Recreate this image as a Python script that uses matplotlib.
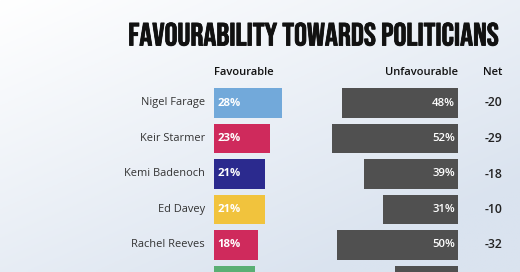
import numpy as np
import matplotlib
matplotlib.use('Agg')
import matplotlib.pyplot as plt
import matplotlib.patheffects as pe

names = ['Nigel Farage', 'Keir Starmer', 'Kemi Badenoch', 'Ed Davey',
         'Rachel Reeves', 'Zack Polanski']
favourable = [28, 23, 21, 21, 18, 17]
unfavourable = [48, 52, 39, 31, 50, 26]
net = [-20, -29, -18, -10, -32, -9]
fav_colors = ['#72a9da', '#cf2a5c', '#2b2a8e', '#f1c33d', '#cf2a5c', '#5aaf74']
n_visible = 5  # last row is cut off by the bottom edge

W, H = 520, 272


def fx(px):
    return px / W


def fy(py):
    return 1 - py / H


fig = plt.figure(figsize=(W / 100, H / 100), dpi=100)

# background gradient
bg = fig.add_axes([0, 0, 1, 1])
xx, yy = np.meshgrid(np.linspace(0, 1, 200), np.linspace(0, 1, 100))
t = np.clip(0.55 * xx + 0.65 * yy, 0, 1)[..., None]
c0 = np.array([1.0, 1.0, 1.0])
c1 = np.array([0xda, 0xe3, 0xef]) / 255
bg.imshow(c0 + (c1 - c0) * t, aspect='auto', extent=(0, 1, 0, 1))
bg.set_xlim(0, 1)
bg.set_ylim(0, 1)
bg.axis('off')

font = 'Open Sans'
row_top, row_h = 85.25, 35.5
n = len(names)
ax_top = fy(row_top)
ax_bot = fy(row_top + n * row_h)

# favourable bars
ax1 = fig.add_axes([fx(214), ax_bot, fx(110), ax_top - ax_bot])
ax1.barh(range(n), favourable, height=0.845, color=fav_colors)
ax1.set_xlim(0, 110 / 2.44)
ax1.set_ylim(n - 0.5, -0.5)
ax1.axis('off')

# unfavourable bars
ax2 = fig.add_axes([fx(318), ax_bot, fx(140), ax_top - ax_bot])
ax2.barh(range(n), unfavourable, height=0.845, color='#505050')
ax2.set_xlim(140 / 2.42, 0)
ax2.set_ylim(n - 0.5, -0.5)
ax2.axis('off')

for i in range(n_visible):
    ax1.annotate(names[i], (0, i), xytext=(-6.5, 0), textcoords='offset points',
                 ha='right', va='center', fontsize=7.9, color='#333333', family=font)
    ax1.annotate(f'{favourable[i]}%', (0, i), xytext=(2.3, 0), textcoords='offset points',
                 ha='left', va='center', fontsize=8.2, color='white', fontweight='bold', family=font)
    ax2.annotate(f'{unfavourable[i]}%', (0, i), xytext=(-2.3, 0), textcoords='offset points',
                 ha='right', va='center', fontsize=8.2, color='white', fontweight='semibold', family=font)
    ax2.annotate(f'{net[i]}', (0, i), xytext=(25.5, 0), textcoords='offset points',
                 ha='center', va='center', fontsize=8.8, color='#222222', fontweight='semibold', family=font)

hdr = dict(fontsize=8, color='#111111', fontweight='semibold', family=font, va='center')
fig.text(fx(214), fy(73), 'Favourable', ha='left', **hdr)
fig.text(fx(458), fy(73), 'Unfavourable', ha='right', **hdr)
fig.text(fx(493), fy(73), 'Net', ha='center', **hdr)

fig.text(fx(500), fy(34), 'FAVOURABILITY TOWARDS POLITICIANS',
         ha='right', va='center', fontsize=23.2, color='#111111', family='Bebas Neue',
         path_effects=[pe.withStroke(linewidth=0.6, foreground='#111111')])

fig.savefig('out.png', dpi=100)
